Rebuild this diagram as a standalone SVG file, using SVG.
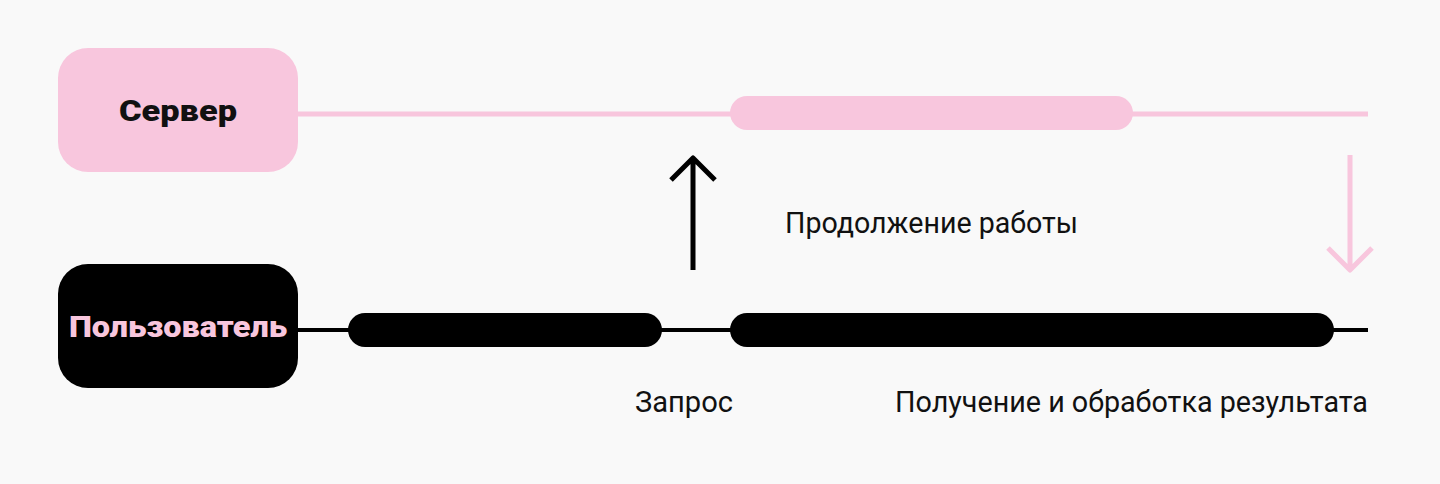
<svg xmlns="http://www.w3.org/2000/svg" width="1440" height="484" viewBox="0 0 1440 484">
<style>
.lbl{font-family:Roboto,"Liberation Sans",sans-serif;font-size:30px;fill:#111;font-weight:400}
.nt{font-family:Roboto,"Liberation Sans",sans-serif;font-size:30px;font-weight:900;text-anchor:middle}
</style>
<rect width="1440" height="484" fill="#f9f9f9"/>
<g id="connectors" fill="none" stroke-linecap="round" stroke-linejoin="round">
<line x1="298" y1="114" x2="1368" y2="114" stroke="#f8c6dd" stroke-width="5" stroke-linecap="butt"/>
<rect x="730" y="96" width="403" height="34" rx="17" fill="#f8c6dd" stroke="none"/>
<line x1="298" y1="330" x2="1368" y2="330" stroke="#000" stroke-width="4" stroke-linecap="butt"/>
<rect x="348" y="313" width="314" height="34" rx="17" fill="#000" stroke="none"/>
<rect x="730" y="313" width="604" height="34" rx="17" fill="#000" stroke="none"/>
<path d="M693 270 V158 M671 180 L693 158 L715 180" stroke="#000" stroke-width="5" stroke-linecap="butt"/>
<path d="M1350 155 V270 M1328 248 L1350 270 L1372 248" stroke="#f8c6dd" stroke-width="5" stroke-linecap="butt"/>
</g>
<g id="server"><rect x="58" y="48" width="240" height="124" rx="30" fill="#f8c6dd"/><text class="nt" x="178" y="121" fill="#111" textLength="118" lengthAdjust="spacingAndGlyphs">Сервер</text></g>
<g id="user"><rect x="58" y="264" width="240" height="124" rx="30" fill="#000"/><text class="nt" x="178" y="337" fill="#f8c6dd" textLength="218" lengthAdjust="spacingAndGlyphs">Пользователь</text></g>
<text class="lbl" x="785" y="233" textLength="293" lengthAdjust="spacingAndGlyphs">Продолжение работы</text>
<text class="lbl" x="635" y="412" textLength="98" lengthAdjust="spacingAndGlyphs">Запрос</text>
<text class="lbl" x="895" y="412" textLength="473" lengthAdjust="spacingAndGlyphs">Получение и обработка результата</text>
</svg>
